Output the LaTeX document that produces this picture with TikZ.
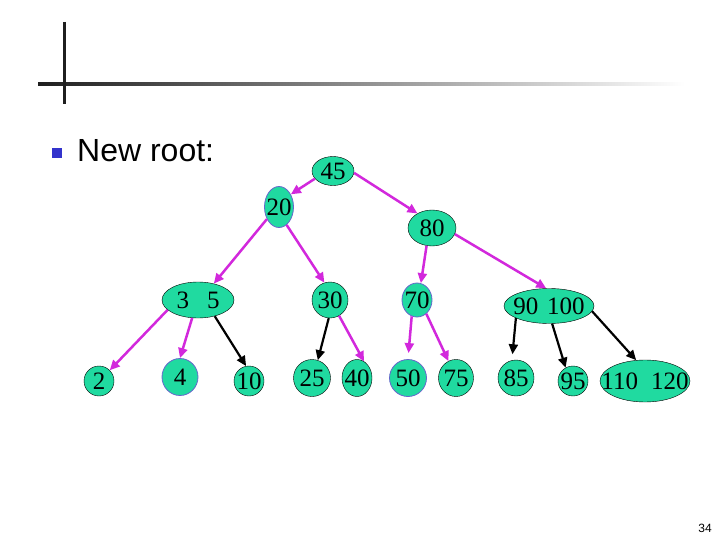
\documentclass[tikz,border=0pt]{standalone}
\usepackage{fontspec}
\setmainfont{Liberation Serif}
\newfontfamily\slidesans{Liberation Sans}
\usetikzlibrary{shapes.geometric,arrows.meta}

\definecolor{keygreen}{RGB}{32,218,160}
\definecolor{keyblue}{RGB}{102,102,204}
\definecolor{linkpink}{RGB}{210,40,220}
\definecolor{bulletblue}{RGB}{51,51,204}

% keys are sized by their ellipse, not by their text
\newcommand{\kt}[1]{\makebox[0pt]{#1}}

\tikzset{
    key/.style={ellipse,draw=black,fill=keygreen,inner sep=0pt,
        font=\fontsize{25}{28}\selectfont},
    bluekey/.style={key,draw=keyblue,line width=0.8pt}
}

\begin{document}
\begin{tikzpicture}[x=1pt,y=-1pt]
\useasboundingbox (0,0) rectangle (720,540);

% slide header
\shade[left color=black!88,right color=white] (38,82.5) rectangle (685,85.5);
\draw[line width=3pt,black!88] (64,22) -- (64,104);

\node[fill=bulletblue,minimum size=10pt,inner sep=0pt] (bullet) at (57,153) {};
\node[anchor=base west,inner sep=0pt,font=\slidesans\fontsize{32}{38}\selectfont]
    (title) at (77,162) {New root:};
\node[font=\slidesans\fontsize{12}{14}\selectfont] (pageno) at (705,528) {34};

\begin{scope}

    \node[key,minimum width=42pt,minimum height=29pt] (n45) at (333,171) {\kt{45}};

    \node[bluekey,minimum width=29pt,minimum height=41pt] (n20) at (279,207) {\kt{20}};
    \node[key,minimum width=48pt,minimum height=36pt] (n80) at (432,228) {\kt{80}};

    \node[key,minimum width=72pt,minimum height=36pt] (n35) at (198,300) {\kt{3\hspace{18pt}5}};
    \node[key,minimum width=36pt,minimum height=36pt] (n30) at (330,300) {\kt{30}};
    \node[bluekey,minimum width=30pt,minimum height=34pt] (n70) at (417,300) {\kt{70}};
    \node[key,minimum width=90pt,minimum height=35pt] (n90) at (549,306) {\kt{90\hspace{9pt}100}};

    \node[key,minimum width=30pt,minimum height=30pt] (n2) at (99,381) {\kt{2}};
    \node[bluekey,minimum width=36pt,minimum height=37pt] (n4) at (180,377) {\kt{4}};
    \node[key,minimum width=30pt,minimum height=30pt] (n10) at (249,381) {\kt{10}};
    \node[key,minimum width=37pt,minimum height=37pt] (n25) at (312,378) {\kt{25}};
    \node[key,minimum width=30pt,minimum height=37pt] (n40) at (357,378) {\kt{40}};
    \node[bluekey,minimum width=37pt,minimum height=37pt] (n50) at (408,378) {\kt{50}};
    \node[key,minimum width=35pt,minimum height=37pt] (n75) at (456,378) {\kt{75}};
    \node[key,minimum width=36pt,minimum height=36pt] (n85) at (516,378) {\kt{85}};
    \node[key,minimum width=30pt,minimum height=30pt] (n95) at (573,381) {\kt{95}};
    \node[key,minimum width=90pt,minimum height=42pt] (n110) at (645,381) {\kt{110\hspace{13pt}120}};

\end{scope}

\begin{scope} [every edge/.style={draw=linkpink,line width=2.5pt}]

    \path[-{Triangle[length=10pt,width=9pt]}] (n45.203) edge (n20.47);
    \path[-{Triangle[length=10pt,width=9pt]}] (n45.355) edge (n80.135);
    \path[-{Triangle[length=10pt,width=9pt]}] (n20.225) edge (n35.46);
    \path[-{Triangle[length=10pt,width=9pt]}] (n20.293) edge (n30.108);
    \path[-{Triangle[length=10pt,width=9pt]}] (n80.253) edge (n70.77);
    \path[-{Triangle[length=10pt,width=9pt]}] (n80.345) edge (n90.99);

    \path[-{Triangle[length=10pt,width=9pt]}] (n35.198) edge (n2.45);
    \path[-{Triangle[length=10pt,width=9pt]}] (n35.252) edge (n4.90);
    \path[-{Triangle[length=10pt,width=9pt]}] (n30.300) edge (n40.67);
    \path[-{Triangle[length=10pt,width=9pt]},shorten >=6pt] (n70.252) edge (n50.90);
    \path[-{Triangle[length=10pt,width=9pt]}] (n70.304) edge (n75.114);

\end{scope}

\begin{scope} [every edge/.style={draw=black,line width=2.2pt}]

    \path[-{Triangle[length=10pt,width=9pt]}] (n35.316) edge (n10.101);
    \path[-{Triangle[length=10pt,width=9pt]}] (n30.266) edge (n25.72);
    \path[-{Triangle[length=10pt,width=9pt]},shorten >=6pt] (n90.200) edge (n85.103);
    \path[-{Triangle[length=10pt,width=9pt]}] (n90.280) edge (n95.119);
    \path[-{Triangle[length=10pt,width=9pt]}] (n90.353) edge (n110.113);

\end{scope}

\end{tikzpicture}
\end{document}
